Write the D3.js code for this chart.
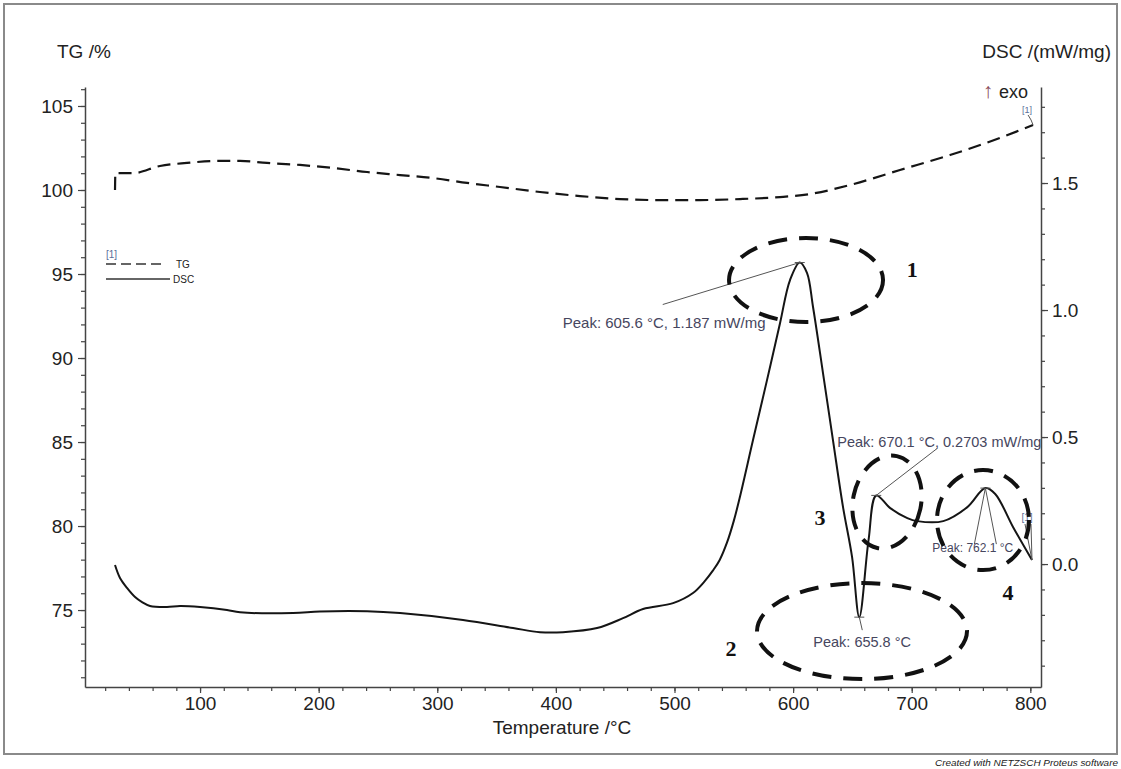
<!DOCTYPE html>
<html>
<head>
<meta charset="utf-8">
<script src="https://cdn.jsdelivr.net/npm/d3@7"></script>
<style>
  body { margin: 0; background: #fff; }
  svg { display: block; font-family: "Liberation Sans", Arial, sans-serif; }
</style>
</head>
<body>
<div id="chart"></div>
<script>
// TG curve (left axis, %)
const tgTemp = [28.3, 28.6, 43.5, 66.2, 89.0, 114.3, 133.7, 156.4, 184.3, 212.1, 240.8, 268.6, 296.4, 325.1,
  352.9, 386.6, 420.3, 454.1, 487.8, 521.5, 555.2, 588.9, 614.2, 648.0, 690.1, 732.3, 774.4, 802.3];
const tgValue = [100.0, 101.0, 101.0, 101.43, 101.61, 101.73, 101.73, 101.61, 101.49, 101.31, 101.07, 100.89, 100.71, 100.42,
  100.18, 99.88, 99.64, 99.46, 99.40, 99.40, 99.46, 99.58, 99.76, 100.30, 101.19, 102.08, 103.10, 103.87];

// DSC curve (right axis, mW/mg)
const dscTemp = [28.3, 32.5, 38.4, 45.2, 51.1, 57.8, 72.1, 83.1, 100.0, 122.7, 133.7, 178.4, 201.1, 240.8,
  268.6, 321.7, 363.9, 386.6, 406.0, 434.7, 456.6, 473.5, 498.8, 515.6, 525.0, 532.5, 538.0, 544.3, 550.0, 555.2, 566.2,
  578.0, 589.0, 597.4, 605.6, 611.7, 616.8, 625.2, 633.6, 642.1, 649.7, 655.8, 663.6, 670.1, 681.9,
  696.3, 704.7, 726.6, 746.9, 762.1, 770.4, 785.4, 801.4];
const dscValue = [-0.004, -0.055, -0.094, -0.130, -0.150, -0.165, -0.169, -0.165, -0.169, -0.181, -0.190, -0.193, -0.187, -0.186,
  -0.193, -0.220, -0.252, -0.268, -0.268, -0.252, -0.213, -0.177, -0.154, -0.114, -0.070, -0.025, 0.015, 0.085, 0.170, 0.265, 0.488,
  0.724, 0.949, 1.118, 1.187, 1.146, 1.012, 0.752, 0.488, 0.224, 0.028, -0.209, 0.094, 0.270, 0.220,
  0.181, 0.169, 0.169, 0.224, 0.299, 0.276, 0.146, 0.016];

// peak labels
const peakTemp = [605.6, 655.8, 670.1, 762.1];
const peakValue = [1.187, -0.209, 0.2703, 0.299];
const peakLabel = ["Peak: 605.6 °C, 1.187 mW/mg", "Peak: 655.8 °C", "Peak: 670.1 °C, 0.2703 mW/mg", "Peak: 762.1 °C"];

// hand drawn marks: centres in (°C, mW/mg)
const markTemp = [610.9, 658.1, 679.2, 760.1];
const markValue = [1.118, -0.264, 0.244, 0.173];
const markName = ["1", "2", "3", "4"];
const markNameTemp = [700.5, 547.6, 622.7, 781.2];
const markNameValue = [1.161, -0.331, 0.185, -0.110];

// ticks
const xMajor = [100, 200, 300, 400, 500, 600, 700, 800];
const tgMajor = [75, 80, 85, 90, 95, 100, 105];
const dscMajor = [0.0, 0.5, 1.0, 1.5];

const [W, H] = [1121, 769];
const axisColor = "#444";
const textColor = "#222";
const noteColor = "#46465e";

const svg = d3.select("#chart").append("svg").attr("width", W).attr("height", H);
svg.append("rect").attr("width", W).attr("height", H).attr("fill", "#fff");

// outer frame
svg.append("rect")
  .attr("x", 4).attr("y", 4).attr("width", 1113).attr("height", 750)
  .attr("fill", "none").attr("stroke", "#8a8a8a").attr("stroke-width", 2);

const x = d3.scaleLinear().domain([3, 809]).range([85, 1041]);
const yTG = d3.scaleLinear().domain([70.42, 106.13]).range([687, 87]);
const yDSC = d3.scaleLinear().domain([-0.484, 1.878]).range([687, 87]);

function styleAxis(g, withDomain) {
  g.attr("font-family", null).attr("font-size", 19);
  if (withDomain) g.select(".domain").attr("stroke", axisColor).attr("stroke-width", 1.5);
  else g.select(".domain").remove();
  g.selectAll(".tick line").attr("stroke", axisColor).attr("stroke-width", 1.2);
  g.selectAll(".tick text").attr("fill", textColor);
}

// left axis
svg.append("g").attr("transform", "translate(85,0)")
  .call(d3.axisLeft(yTG).tickValues(d3.range(71, 107)).tickSize(4).tickFormat("").tickSizeOuter(0))
  .call(g => styleAxis(g, true));
svg.append("g").attr("transform", "translate(85,0)")
  .call(d3.axisLeft(yTG).tickValues(tgMajor).tickSize(7).tickPadding(5).tickFormat(d3.format("d")))
  .call(g => styleAxis(g, false));

// right axis
svg.append("g").attr("transform", "translate(1041,0)")
  .call(d3.axisRight(yDSC).tickValues(d3.range(-4, 19).map(i => i / 10)).tickSize(4).tickFormat("").tickSizeOuter(0))
  .call(g => styleAxis(g, true));
svg.append("g").attr("transform", "translate(1041,0)")
  .call(d3.axisRight(yDSC).tickValues(dscMajor).tickSize(7).tickPadding(4).tickFormat(d3.format(".1f")))
  .call(g => styleAxis(g, false));

// bottom axis
svg.append("g").attr("transform", "translate(0,687)")
  .call(d3.axisBottom(x).tickValues(d3.range(20, 801, 20)).tickSize(4).tickFormat("").tickSizeOuter(0))
  .call(g => styleAxis(g, true));
svg.append("g").attr("transform", "translate(0,687)")
  .call(d3.axisBottom(x).tickValues(xMajor).tickSize(6).tickPadding(4).tickFormat(d3.format("d")))
  .call(g => styleAxis(g, false));

// axis titles
svg.append("text").attr("x", 57).attr("y", 58).attr("font-size", 19).attr("fill", textColor).text("TG /%");
svg.append("text").attr("x", 1111).attr("y", 58).attr("font-size", 19).attr("text-anchor", "end")
  .attr("fill", textColor).text("DSC /(mW/mg)");
svg.append("text").attr("x", 562).attr("y", 734).attr("font-size", 19).attr("text-anchor", "middle")
  .attr("fill", textColor).text("Temperature /°C");

const exo = svg.append("text").attr("x", 1028).attr("y", 98).attr("text-anchor", "end");
exo.append("tspan").attr("fill", "#8a4a5a").attr("font-size", 21).text("↑ ");
exo.append("tspan").attr("fill", textColor).attr("font-size", 18).text("exo");

// curves
const tgData = tgTemp.map((t, i) => [t, tgValue[i]]);
const dscData = dscTemp.map((t, i) => [t, dscValue[i]]);

svg.append("path").datum(tgData)
  .attr("d", d3.line().x(d => x(d[0])).y(d => yTG(d[1])).curve(d3.curveMonotoneX))
  .attr("fill", "none").attr("stroke", "#151515").attr("stroke-width", 2.2)
  .attr("stroke-dasharray", "13,7");

svg.append("path").datum(dscData)
  .attr("d", d3.line().x(d => x(d[0])).y(d => yDSC(d[1])).curve(d3.curveCatmullRom.alpha(0.5)))
  .attr("fill", "none").attr("stroke", "#151515").attr("stroke-width", 2);

// curve-end labels [1]
const tgEnd = tgData[tgData.length - 1];
const dscEnd = dscData[dscData.length - 1];
svg.append("path")
  .attr("d", `M${x(tgEnd[0]) - 5},${yTG(tgEnd[1]) - 10}L${x(tgEnd[0]) - 2},${yTG(tgEnd[1]) - 5}L${x(tgEnd[0])},${yTG(tgEnd[1])}`)
  .attr("fill", "none").attr("stroke", "#555").attr("stroke-width", 1);
svg.append("text").attr("x", x(tgEnd[0]) - 6).attr("y", yTG(tgEnd[1]) - 12).attr("font-size", 9)
  .attr("text-anchor", "middle").attr("fill", "#5a6f9a").text("[1]");
svg.append("path")
  .attr("d", `M${x(dscEnd[0]) - 7},${yDSC(dscEnd[1]) - 36}L${x(dscEnd[0])},${yDSC(dscEnd[1])}M${x(dscEnd[0]) - 1},${yDSC(dscEnd[1]) - 36}L${x(dscEnd[0])},${yDSC(dscEnd[1])}`)
  .attr("fill", "none").attr("stroke", "#555").attr("stroke-width", 1);
svg.append("text").attr("x", x(dscEnd[0]) - 5).attr("y", yDSC(dscEnd[1]) - 39).attr("font-size", 10)
  .attr("text-anchor", "middle").attr("fill", "#5a6f9a").text("[1]");

// peak annotations: label offset, leader ends, font size
const peakLayout = [
  { lx: -237, ly: 65, leaders: [[-137, 42]], size: 15 },
  { lx: -46, ly: 30, leaders: [[3, 13]], size: 14.5 },
  { lx: -39, ly: -48, leaders: [[61, -47]], size: 14.5 },
  { lx: -53, ly: 64, leaders: [[-11, 56], [11, 56]], size: 12 },
];
peakTemp.forEach((t, i) => {
  const px = x(t), py = yDSC(peakValue[i]);
  const lay = peakLayout[i];
  const g = svg.append("g").attr("class", "peak");
  g.append("line").attr("x1", px - 5).attr("x2", px + 5).attr("y1", py).attr("y2", py)
    .attr("stroke", "#555").attr("stroke-width", 1);
  lay.leaders.forEach(l => {
    g.append("line").attr("x1", px).attr("y1", py).attr("x2", px + l[0]).attr("y2", py + l[1])
      .attr("stroke", "#555").attr("stroke-width", 1);
  });
  g.append("text").attr("x", px + lay.lx).attr("y", py + lay.ly).attr("font-size", lay.size)
    .attr("fill", noteColor).text(peakLabel[i]);
});

// dashed ellipses drawn by hand round the peaks
const markShape = [
  { rx: 77, ry: 42, rot: 0 },
  { rx: 105, ry: 48, rot: 0 },
  { rx: 34, ry: 47, rot: 12 },
  { rx: 46, ry: 50, rot: 0 },
];
markTemp.forEach((t, i) => {
  const cx = x(t), cy = yDSC(markValue[i]);
  svg.append("ellipse")
    .attr("transform", `translate(${cx},${cy}) rotate(${markShape[i].rot})`)
    .attr("rx", markShape[i].rx).attr("ry", markShape[i].ry)
    .attr("fill", "none").attr("stroke", "#111").attr("stroke-width", 4)
    .attr("stroke-dasharray", "19,12");
  svg.append("text")
    .attr("x", x(markNameTemp[i])).attr("y", yDSC(markNameValue[i]))
    .attr("dy", "0.35em").attr("text-anchor", "middle")
    .attr("font-family", "'Liberation Serif', 'Times New Roman', serif")
    .attr("font-weight", "bold").attr("font-size", 22).attr("fill", "#111")
    .text(markName[i]);
});

// legend
const legend = svg.append("g").attr("id", "legend");
legend.append("text").attr("x", 106).attr("y", 258).attr("font-size", 10).attr("fill", "#5a6f9a").text("[1]");
legend.append("line").attr("x1", 106).attr("x2", 166).attr("y1", 264).attr("y2", 264)
  .attr("stroke", "#333").attr("stroke-width", 1.5).attr("stroke-dasharray", "10,5");
legend.append("text").attr("x", 176).attr("y", 268).attr("font-size", 10).attr("fill", textColor).text("TG");
legend.append("line").attr("x1", 106).attr("x2", 170).attr("y1", 279).attr("y2", 279)
  .attr("stroke", "#333").attr("stroke-width", 1.5);
legend.append("text").attr("x", 173).attr("y", 283).attr("font-size", 10).attr("fill", textColor).text("DSC");

// credit
svg.append("text").attr("x", 1118).attr("y", 766).attr("font-size", 9).attr("font-style", "italic")
  .attr("text-anchor", "end").attr("fill", textColor)
  .attr("textLength", 183).attr("lengthAdjust", "spacingAndGlyphs")
  .text("Created with NETZSCH Proteus software");
</script>
</body>
</html>
